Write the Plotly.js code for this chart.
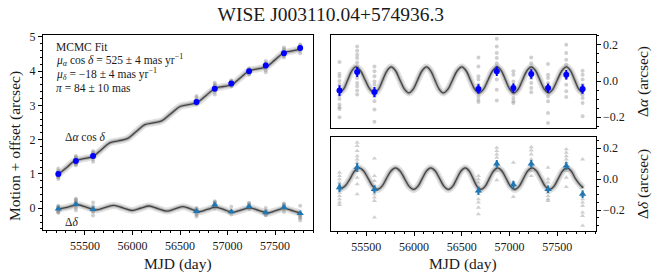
<!DOCTYPE html>
<html>
<head>
<meta charset="utf-8">
<script src="https://cdn.plot.ly/plotly-3.0.1.min.js"></script>
<style>html,body{margin:0;padding:0;background:#fff}#chart{width:659px;height:280px}</style>
</head>
<body>
<div id="chart"></div>
<script>
// ---- data ----
const epochs = [55219, 55404, 55585, 56674, 56866, 57040, 57227, 57403, 57594, 57765];

// per-epoch mean residuals (arcsec) and errors
const alphaMean = [-0.053, 0.050, -0.061, -0.044, 0.054, -0.039, 0.039, -0.039, 0.035, -0.044];
const alphaErr  = [0.030, 0.028, 0.028, 0.026, 0.026, 0.026, 0.026, 0.026, 0.026, 0.026];
const deltaMean = [-0.054, 0.077, -0.065, -0.075, 0.100, -0.035, 0.100, -0.065, 0.086, -0.097];
const deltaErr  = [0.028, 0.028, 0.026, 0.025, 0.025, 0.025, 0.025, 0.025, 0.025, 0.025];

// per-epoch means of motion + offset (left panel)
const alphaTotal = [1.00, 1.38, 1.52, 3.10, 3.48, 3.64, 3.99, 4.16, 4.52, 4.67];
const deltaTotal = [-0.02, 0.12, -0.03, -0.09, 0.10, -0.10, 0.05, -0.13, 0.03, -0.15];

// individual exposures (residual, arcsec)
const alphaPts = [
  [0.105, 0.04, 0.025, 0.0, -0.02, -0.045, -0.08, -0.1, -0.13, -0.145, -0.155, -0.2],
  [0.192, 0.168, 0.146, 0.127, 0.103, 0.081, 0.057, 0.035, 0.017, -0.011, -0.029, -0.053, -0.075],
  [0.081, 0.054, 0.026, -0.002, -0.02, -0.057, -0.085, -0.112, -0.158, -0.226],
  [0.131, 0.081, 0.026, 0.008, -0.02, -0.039, -0.057, -0.085, -0.103, -0.116],
  [0.234, 0.192, 0.155, 0.127, 0.099, 0.081, 0.044, 0.008, -0.048, -0.108],
  [0.054, 0.035, -0.002, -0.02, -0.048, -0.066, -0.094, -0.112, -0.122],
  [0.131, 0.099, 0.072, 0.054, 0.017, -0.011, -0.039, -0.062],
  [0.094, 0.035, 0.017, -0.011, -0.029, -0.057, -0.085, -0.112, -0.177, -0.232],
  [0.201, 0.155, 0.118, 0.090, 0.044, 0.017, -0.02, -0.057, -0.088],
  [0.057, 0.035, 0.008, -0.02, -0.048, -0.075, -0.094, -0.122, -0.195]
];
const deltaPts = [
  [0.043, 0.021, 0, -0.021, -0.043, -0.065, -0.086, -0.108, -0.129, -0.15, -0.166],
  [0.237, 0.215, 0.183, 0.15, 0.129, 0.108, 0.075, 0.054, 0.011, -0.032, -0.097],
  [0.134, 0.021, -0.011, -0.054, -0.075, -0.097, -0.118, -0.14, -0.247],
  [0.021, 0, -0.021, -0.054, -0.075, -0.097, -0.129, -0.15, -0.183, -0.226],
  [0.204, 0.183, 0.161, 0.14, 0.108, 0.086, 0.054, -0.006],
  [0.108, -0.021, -0.043, -0.065, -0.114],
  [0.208, 0.187, 0.161, 0.129, 0.108, 0.086, 0.054, 0.021],
  [0.075, 0, -0.021, -0.054, -0.086, -0.108, -0.129, -0.14],
  [0.194, 0.172, 0.15, 0.129, 0.108, 0.086, 0.054, 0.011, -0.05],
  [0.129, -0.054, -0.086, -0.108, -0.129, -0.15, -0.172, -0.215, -0.237, -0.301]
];

// fitted curves (left panel: motion + offset), read at extrema / crossings
const fitAlphaT = [55219,55305,55390,55488,55585,55672,55760,55852,55945,56037,56130,56218,56307,56403,56500,56590,56680,56775,56870,56958,57045,57136,57228,57318,57408,57500,57595,57682,57768];
const fitAlphaTot = [0.989,1.184,1.378,1.446,1.513,1.709,1.907,1.967,2.028,2.232,2.437,2.491,2.546,2.755,2.966,3.023,3.080,3.288,3.496,3.549,3.602,3.804,4.008,4.065,4.121,4.325,4.533,4.585,4.637];
const fitDeltaT = [55219,55330,55424,55520,55615,55710,55805,55900,55995,56085,56175,56268,56360,56448,56535,56618,56700,56788,56875,56965,57055,57145,57235,57328,57420,57510,57600,57690,57770];
const fitDeltaTot = [-0.025,0.039,0.103,0.029,-0.046,0.020,0.084,0.010,-0.064,0.001,0.066,-0.008,-0.082,-0.017,0.048,-0.025,-0.099,-0.033,0.031,-0.042,-0.117,-0.051,0.014,-0.060,-0.135,-0.069,-0.004,-0.078,-0.141];

// fitted parallax curves (right panels), read at eighth-cycle points
const resAlphaT = [55219,55262,55305,55348,55390,55439,55488,55537,55585,55629,55672,55716,55760,55806,55852,55899,55945,55991,56037,56084,56130,56174,56218,56263,56307,56355,56403,56452,56500,56545,56590,56635,56680,56728,56775,56823,56870,56914,56958,57002,57045,57091,57136,57182,57228,57273,57318,57363,57408,57454,57500,57548,57595,57639,57682,57725,57768];
const resAlphaY = [-0.064,-0.045,0.006,0.057,0.078,0.057,0.006,-0.045,-0.066,
  -0.045,0.006,0.057,0.078,0.057,0.006,-0.045,-0.066,
  -0.045,0.006,0.057,0.078,0.057,0.006,-0.045,-0.066,
  -0.045,0.006,0.057,0.078,0.057,0.006,-0.045,-0.066,
  -0.045,0.006,0.057,0.078,0.057,0.006,-0.045,-0.066,
  -0.045,0.006,0.057,0.078,0.057,0.006,-0.045,-0.066,
  -0.045,0.006,0.057,0.078,0.057,0.006,-0.045,-0.066];
const resDeltaT = [55219,55275,55330,55377,55424,55472,55520,55568,55615,55663,55710,55758,55805,55853,55900,55948,55995,56040,56085,56130,56175,56222,56268,56314,56360,56404,56448,56492,56535,56577,56618,56659,56700,56744,56788,56832,56875,56920,56965,57010,57055,57100,57145,57190,57235,57282,57328,57374,57420,57465,57510,57555,57600,57645,57690,57730,57770];
const resDeltaY = [-0.065,
  -0.046,0.004,0.053,0.073,0.053,0.004,-0.046,-0.066,
  -0.046,0.004,0.053,0.073,0.053,0.004,-0.046,-0.066,
  -0.046,0.004,0.053,0.073,0.053,0.004,-0.046,-0.066,
  -0.046,0.004,0.053,0.073,0.053,0.004,-0.046,-0.066,
  -0.046,0.004,0.053,0.073,0.053,0.004,-0.046,-0.066,
  -0.046,0.004,0.053,0.073,0.053,0.004,-0.046,-0.066,
  -0.046,0.004,0.053,0.073,0.053,0.004,-0.030,-0.055];

// ---- build traces ----
const FONT = 'Liberation Serif';
const GRAY = 'rgba(140,140,140,0.42)';
const TXT = '#1a1a1a';

function flatten(pts, base, mean) {
  const xs = [], ys = [];
  pts.forEach((arr, i) => arr.forEach(v => {
    xs.push(epochs[i]);
    ys.push(base ? base[i] + (v - mean[i]) : v);
  }));
  return {xs, ys};
}
function grayTrace(pts, base, mean, sym, xa, ya) {
  const f = flatten(pts, base, mean);
  return {x: f.xs, y: f.ys, xaxis: xa, yaxis: ya, type: 'scatter', mode: 'markers',
    marker: {symbol: sym, size: sym === 'circle' ? 4 : 4.5, color: GRAY, line: {width: 0}},
    hoverinfo: 'skip', showlegend: false};
}
function curveTraces(xs, ys, xa, ya) {
  const ln = (w, c) => ({x: xs, y: ys, xaxis: xa, yaxis: ya, mode: 'lines',
    line: {shape: 'spline', smoothing: 1, width: w, color: c}, showlegend: false, hoverinfo: 'skip'});
  return [ln(7, 'rgba(165,165,165,0.33)'), ln(3.5, 'rgba(115,115,115,0.42)'), ln(1.3, 'rgba(55,55,55,0.9)')];
}
function meanTrace(ys, err, sym, color, size, xa, ya) {
  return {x: epochs, y: ys, xaxis: xa, yaxis: ya, mode: 'markers', type: 'scatter',
    marker: {symbol: sym, size: size, color: color, line: {width: 0}},
    error_y: err ? {type: 'data', array: err, visible: true, color: color, thickness: 2, width: 0} : undefined,
    showlegend: false};
}

const traces = [];
// left panel
traces.push(grayTrace(alphaPts, alphaTotal, alphaMean, 'circle', 'x', 'y'));
traces.push(grayTrace(deltaPts, deltaTotal, deltaMean, 'circle', 'x', 'y'));
traces.push(...curveTraces(fitAlphaT, fitAlphaTot, 'x', 'y'));
traces.push(...curveTraces(fitDeltaT, fitDeltaTot, 'x', 'y'));
traces.push(meanTrace(alphaTotal, null, 'circle', '#0000ff', 6, 'x', 'y'));
traces.push(meanTrace(deltaTotal, null, 'triangle-up', '#1f77b4', 6.5, 'x', 'y'));
// top right
traces.push(grayTrace(alphaPts, null, null, 'circle', 'x2', 'y2'));
traces.push(...curveTraces(resAlphaT, resAlphaY, 'x2', 'y2'));
traces.push(meanTrace(alphaMean, alphaErr, 'circle', '#0000ff', 6, 'x2', 'y2'));
// bottom right
traces.push(grayTrace(deltaPts, null, null, 'triangle-up', 'x3', 'y3'));
traces.push(...curveTraces(resDeltaT, resDeltaY, 'x3', 'y3'));
traces.push(meanTrace(deltaMean, deltaErr, 'triangle-up', '#1f77b4', 6.5, 'x3', 'y3'));

const W = 659, H = 280;
const px = v => v / W, py = v => 1 - v / H;

const axBase = {
  showline: true, mirror: true, linecolor: '#000', linewidth: 1.2,
  ticks: 'outside', ticklen: 4, tickwidth: 1, tickcolor: '#000',
  showgrid: false, zeroline: false, automargin: false,
  tickfont: {family: FONT, size: 12, color: TXT}
};
const minorX = {dtick: 100, ticklen: 2, tickcolor: '#000', ticks: 'outside'};

const layout = {
  width: W, height: H,
  margin: {l: 0, r: 0, t: 0, b: 0},
  paper_bgcolor: '#fff', plot_bgcolor: '#fff',
  font: {family: FONT, color: TXT},
  title: {text: 'WISE J003110.04+574936.3', x: 0.502, xanchor: 'center', y: py(14), yanchor: 'middle',
          font: {family: FONT, size: 19.5, color: TXT}},
  xaxis: Object.assign({}, axBase, {domain: [px(43), px(313)], range: [55058, 57900], anchor: 'y',
          dtick: 500, tick0: 55000, tickformat: 'd', minor: minorX}),
  yaxis: Object.assign({}, axBase, {domain: [py(230), py(35)], range: [-0.633, 5.05], anchor: 'x',
          dtick: 1, tick0: 0, minor: {dtick: 0.2, ticklen: 2, tickcolor: '#000', ticks: 'outside'}}),
  xaxis2: Object.assign({}, axBase, {domain: [px(331), px(595.5)], range: [55130, 57900], anchor: 'y2',
          showticklabels: false, ticks: ''}),
  yaxis2: Object.assign({}, axBase, {domain: [py(128), py(35)], range: [-0.26, 0.255], anchor: 'x2', side: 'right',
          dtick: 0.2, tick0: 0, tickformat: '.1f', minor: {dtick: 0.05, ticklen: 2, tickcolor: '#000', ticks: 'outside'}}),
  xaxis3: Object.assign({}, axBase, {domain: [px(331), px(595.5)], range: [55130, 57900], anchor: 'y3',
          dtick: 500, tick0: 55000, tickformat: 'd', minor: minorX}),
  yaxis3: Object.assign({}, axBase, {domain: [py(231), py(137)], range: [-0.335, 0.273], anchor: 'x3', side: 'right',
          dtick: 0.2, tick0: 0, tickformat: '.1f', minor: {dtick: 0.05, ticklen: 2, tickcolor: '#000', ticks: 'outside'}}),
  annotations: []
};

function ann(text, x, y, size, opts) {
  return Object.assign({text: text, xref: 'paper', yref: 'paper', x: px(x), y: py(y), showarrow: false,
    xanchor: 'left', yanchor: 'middle', font: {family: FONT, size: size, color: TXT}}, opts || {});
}
layout.annotations.push(
  ann('MCMC Fit', 54, 47, 11.5),
  ann('<i>μ</i><sub><i>α</i></sub> cos <i>δ</i> = 525 ± 4 mas yr<sup>−1</sup>', 54, 60, 11.5),
  ann('<i>μ</i><sub><i>δ</i></sub> = −18 ± 4 mas yr<sup>−1</sup>', 54, 74, 11.5),
  ann('<i>π</i> = 84 ± 10 mas', 54, 87.5, 11.5),
  ann('Δ<i>α</i> cos <i>δ</i>', 63, 137, 11.5),
  ann('Δ<i>δ</i>', 63, 222, 11.5),
  ann('MJD (day)', 178, 264, 15.5, {xanchor: 'center'}),
  ann('MJD (day)', 463, 264, 15.5, {xanchor: 'center'}),
  ann('Motion + offset (arcsec)', 15, 146, 15.5, {xanchor: 'center', textangle: -90}),
  ann('Δ<i>α</i> (arcsec)', 643, 82, 15.5, {xanchor: 'center', textangle: -90}),
  ann('Δ<i>δ</i> (arcsec)', 643, 184, 15.5, {xanchor: 'center', textangle: -90})
);

Plotly.newPlot('chart', traces, layout, {displayModeBar: false, staticPlot: true});
</script>
</body>
</html>
